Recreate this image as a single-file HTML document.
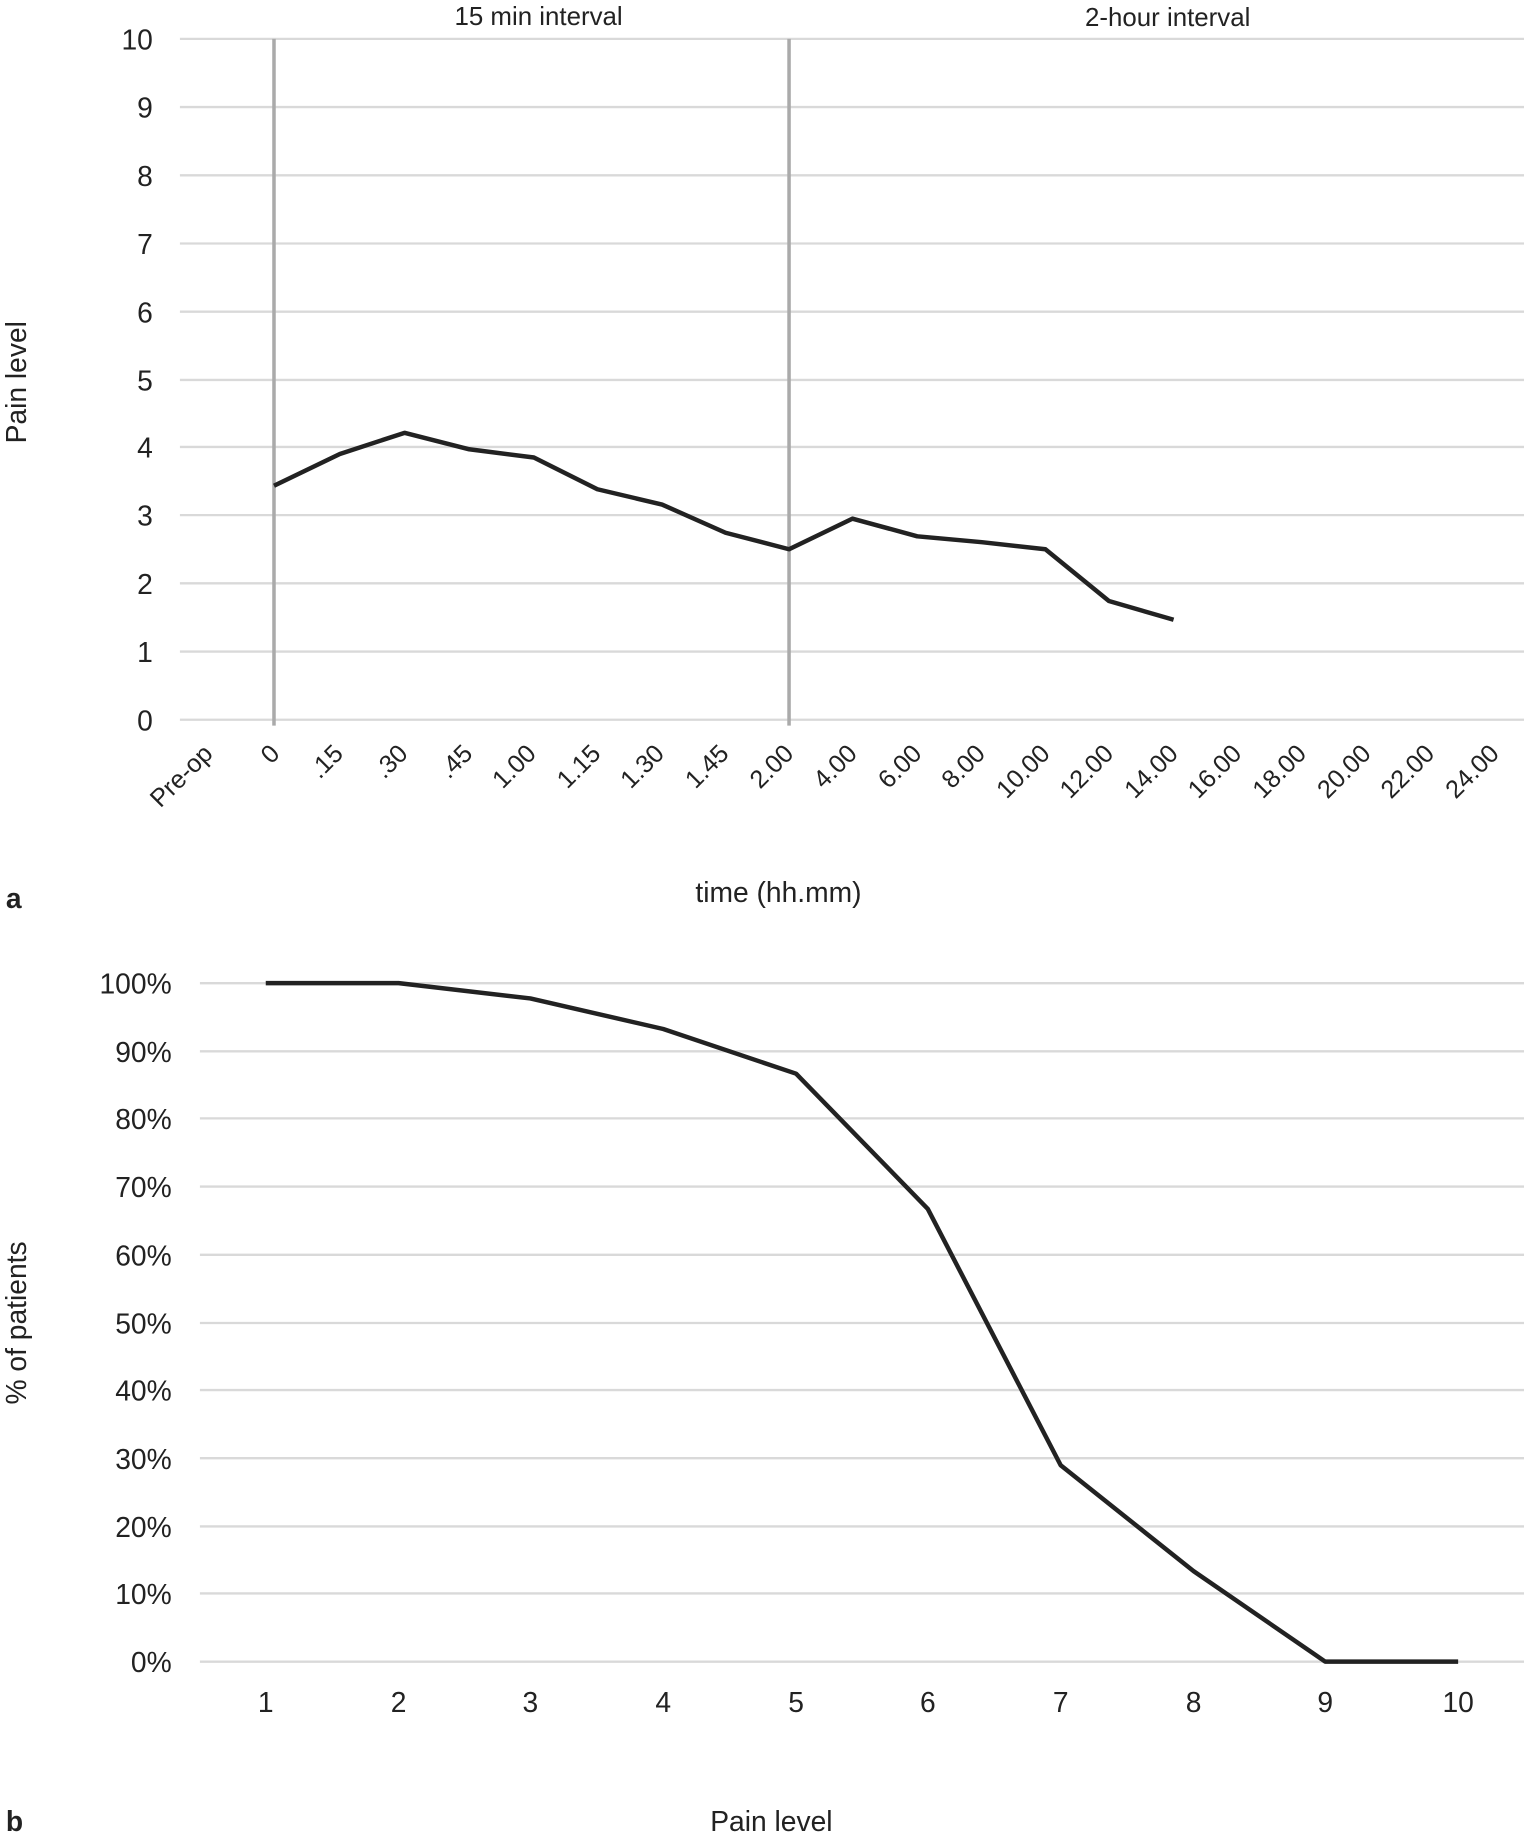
<!DOCTYPE html>
<html><head><meta charset="utf-8"><style>html,body{margin:0;padding:0;background:#fff}svg{display:block}</style></head>
<body>
<svg width="1524" height="1844" viewBox="0 0 1296 1568" xmlns="http://www.w3.org/2000/svg" font-family="Liberation Sans, sans-serif">
<g stroke="#d9d9d9" stroke-width="2">
<line x1="153" x2="1296" y1="33" y2="33"/><line x1="153" x2="1296" y1="91" y2="91"/><line x1="153" x2="1296" y1="149" y2="149"/><line x1="153" x2="1296" y1="207" y2="207"/><line x1="153" x2="1296" y1="265" y2="265"/><line x1="153" x2="1296" y1="323" y2="323"/><line x1="153" x2="1296" y1="380" y2="380"/><line x1="153" x2="1296" y1="438" y2="438"/><line x1="153" x2="1296" y1="496" y2="496"/><line x1="153" x2="1296" y1="554" y2="554"/><line x1="153" x2="1296" y1="612" y2="612"/>
</g>
<g stroke="#aaa" stroke-width="3"><line x1="233" x2="233" y1="33" y2="617"/><line x1="671" x2="671" y1="33" y2="617"/></g>
<g font-size="24" fill="#222" text-anchor="end">
<text x="130" y="42">10</text><text x="130" y="100">9</text><text x="130" y="158">8</text><text x="130" y="216">7</text><text x="130" y="274">6</text><text x="130" y="332">5</text><text x="130" y="389">4</text><text x="130" y="447">3</text><text x="130" y="505">2</text><text x="130" y="563">1</text><text x="130" y="621">0</text>
</g>
<text x="458" y="21" font-size="22" text-anchor="middle" fill="#222">15 min interval</text>
<text x="993" y="22" font-size="22" text-anchor="middle" fill="#222">2-hour interval</text>
<text transform="translate(22,325) rotate(-90)" font-size="24" text-anchor="middle" fill="#222">Pain level</text>
<g font-size="21.5" fill="#222" text-anchor="end">
<text transform="translate(182,642) rotate(-45)">Pre-op</text>
<text transform="translate(239,642) rotate(-45)">0</text>
<text transform="translate(293,642) rotate(-45)">.15</text>
<text transform="translate(348,642) rotate(-45)">.30</text>
<text transform="translate(403,642) rotate(-45)">.45</text>
<text transform="translate(457,642) rotate(-45)">1.00</text>
<text transform="translate(512,642) rotate(-45)">1.15</text>
<text transform="translate(566,642) rotate(-45)">1.30</text>
<text transform="translate(621,642) rotate(-45)">1.45</text>
<text transform="translate(676,642) rotate(-45)">2.00</text>
<text transform="translate(730,642) rotate(-45)">4.00</text>
<text transform="translate(785,642) rotate(-45)">6.00</text>
<text transform="translate(839,642) rotate(-45)">8.00</text>
<text transform="translate(894,642) rotate(-45)">10.00</text>
<text transform="translate(948,642) rotate(-45)">12.00</text>
<text transform="translate(1003,642) rotate(-45)">14.00</text>
<text transform="translate(1057,642) rotate(-45)">16.00</text>
<text transform="translate(1112,642) rotate(-45)">18.00</text>
<text transform="translate(1167,642) rotate(-45)">20.00</text>
<text transform="translate(1221,642) rotate(-45)">22.00</text>
<text transform="translate(1276,642) rotate(-45)">24.00</text>
</g>
<polyline fill="none" stroke="#222" stroke-width="3.8" stroke-linejoin="round" points="233,413 289,386 344,368 399,382 454,389 508,416 563,429 617,453 671,467 725,441 780,456 835,461 889,467 943,511 998,527"/>
<text x="662" y="767" font-size="24" text-anchor="middle" fill="#222">time (hh.mm)</text>
<text x="5" y="772" font-size="24" font-weight="bold" fill="#222">a</text>

<g stroke="#d9d9d9" stroke-width="2">
<line x1="170" x2="1296" y1="836" y2="836"/><line x1="170" x2="1296" y1="894" y2="894"/><line x1="170" x2="1296" y1="951" y2="951"/><line x1="170" x2="1296" y1="1009" y2="1009"/><line x1="170" x2="1296" y1="1067" y2="1067"/><line x1="170" x2="1296" y1="1125" y2="1125"/><line x1="170" x2="1296" y1="1182" y2="1182"/><line x1="170" x2="1296" y1="1240" y2="1240"/><line x1="170" x2="1296" y1="1298" y2="1298"/><line x1="170" x2="1296" y1="1355" y2="1355"/><line x1="170" x2="1296" y1="1413" y2="1413"/>
</g>
<g font-size="24" fill="#222" text-anchor="end">
<text x="146" y="845">100%</text><text x="146" y="903">90%</text><text x="146" y="960">80%</text><text x="146" y="1018">70%</text><text x="146" y="1076">60%</text><text x="146" y="1134">50%</text><text x="146" y="1191">40%</text><text x="146" y="1249">30%</text><text x="146" y="1307">20%</text><text x="146" y="1364">10%</text><text x="146" y="1422">0%</text>
</g>
<g font-size="24" fill="#222" text-anchor="middle">
<text x="226" y="1456">1</text><text x="339" y="1456">2</text><text x="451" y="1456">3</text><text x="564" y="1456">4</text><text x="677" y="1456">5</text><text x="789" y="1456">6</text><text x="902" y="1456">7</text><text x="1015" y="1456">8</text><text x="1127" y="1456">9</text><text x="1240" y="1456">10</text>
</g>
<polyline fill="none" stroke="#222" stroke-width="3.8" stroke-linejoin="round" points="226,836 339,836 451,849 564,875 677,913 789,1028 902,1246 1015,1336 1127,1413 1240,1413"/>
<text transform="translate(22,1125) rotate(-90)" font-size="24" text-anchor="middle" fill="#222">% of patients</text>
<text x="656" y="1557" font-size="24" text-anchor="middle" fill="#222">Pain level</text>
<text x="5" y="1557" font-size="24" font-weight="bold" fill="#222">b</text>
</svg>
</body></html>
